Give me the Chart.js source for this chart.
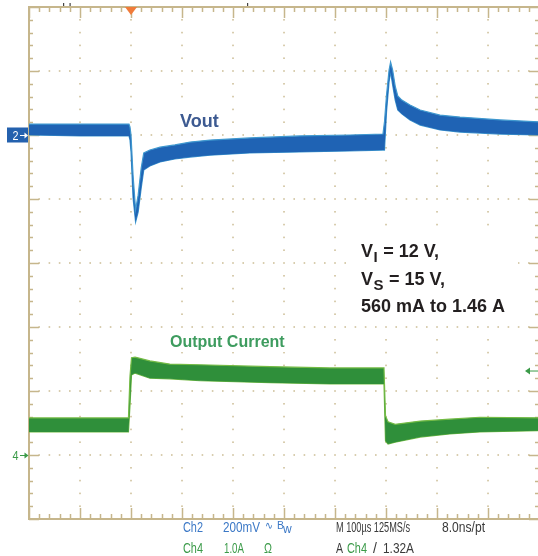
<!DOCTYPE html>
<html><head><meta charset="utf-8">
<script src="https://cdn.jsdelivr.net/npm/chart.js@4.4.1/dist/chart.umd.min.js"></script>
<style>html,body{margin:0;padding:0;background:#fff;overflow:hidden}#wrap{position:relative;width:538px;height:556px}</style>
</head><body><div id="wrap"><canvas id="c" width="538" height="556"></canvas></div>
<script>
// ---- Data read from the oscilloscope capture ----
// time axis: microseconds relative to trigger (100 µs/div)
const timeTicks = [-200,-100,0,100,200,300,400,500,600,700,800];
// Ch2 Vout (mV relative to ch2 reference, 200 mV/div): upper / lower edge of the noisy trace
const voutTime = [-200,-100,-4,-2,0,4,9,14,20,25,37,57,86,116,155,233,331,429,494,497,501,506,509,513,518,523,531,547,567,606,645,724,800];
const voutHigh = [34,34,34,25,0,-125,-234,-188,-103,-56,-47,-38,-31,-22,-16,-9,-3,0,3,41,125,203,228,203,153,122,109,94,78,62,56,47,41];
const voutLow  = [0,-3,-3,-16,-53,-197,-272,-241,-166,-109,-97,-84,-75,-69,-63,-56,-53,-50,-47,-47,72,166,197,156,109,78,66,47,31,16,9,3,0];
// Ch4 output current (A, 1.0 A/div): upper / lower edge of the noisy trace
const currentTime = [-200,-5,-2,1,8,37,76,135,273,390,496,499,504,518,567,625,684,800];
const currentHigh = [0.58,0.58,1.23,1.52,1.53,1.47,1.42,1.41,1.38,1.36,1.36,0.61,0.52,0.48,0.53,0.56,0.59,0.58];
const currentLow  = [0.36,0.36,0.77,1.25,1.28,1.20,1.19,1.16,1.13,1.11,1.11,0.22,0.17,0.20,0.28,0.33,0.36,0.38];
const triggerLevel = 1.32;
const voltsPerDiv = 200, ampsPerDiv = 1.0;
const traceLabels = ['Vout','Output Current'];
const conditionLines = [['V','I',' = 12 V,'],['V','S',' = 15 V,'],['560 mA to 1.46 A','','']];
const statusRow1 = ['Ch2','200mV','∿','B','w','M 100µs 125MS/s','8.0ns/pt'];
const statusRow2 = ['Ch4','1.0A','Ω','A','Ch4','/','1.32A'];

const pts = (t, v) => t.map((x, i) => ({x, y: v[i]}));

const graticule = {
  id: 'graticule',
  beforeDatasetsDraw(chart) {
    const ctx = chart.ctx, xs = chart.scales.x, ys = chart.scales.yv;
    const L = xs.getPixelForValue(-200), R = xs.getPixelForValue(800);
    const T = ys.getPixelForValue(400), B = ys.getPixelForValue(-1200);
    ctx.save();
    ctx.fillStyle = '#cfc19c';
    for (let t = -100; t < 800; t += 100) {
      const px = xs.getPixelForValue(t);
      for (let v = 400 - 40; v > -1200; v -= 40) {
        const py = ys.getPixelForValue(v);
        ctx.fillRect(px - 0.8, py - 0.8, 1.6, 1.6);
      }
    }
    for (let v = 400 - voltsPerDiv; v > -1200; v -= voltsPerDiv) {
      const py = ys.getPixelForValue(v);
      for (let t = -180; t < 800; t += 20) {
        if (t % 100 === 0) continue;
        const px = xs.getPixelForValue(t);
        ctx.fillRect(px - 0.8, py - 0.8, 1.6, 1.6);
      }
    }
    ctx.fillStyle = '#ffffff';
    ctx.fillRect(172, 106, 56, 27);
    ctx.fillRect(346, 233, 172, 92);
    ctx.fillRect(164, 329, 126, 23);
    ctx.strokeStyle = '#c6b68c';
    ctx.lineWidth = 2;
    ctx.strokeRect(L, T, R - L, B - T);
    ctx.lineWidth = 1.5;
    ctx.beginPath();
    for (let t = -200; t <= 800; t += 20) {
      const px = Math.round(xs.getPixelForValue(t)) + 0.5;
      const len = (t % 100 === 0) ? 11 : 5;
      ctx.moveTo(px, T); ctx.lineTo(px, T + len);
      ctx.moveTo(px, B); ctx.lineTo(px, B - len);
    }
    for (let v = 400; v >= -1200; v -= 40) {
      const py = Math.round(ys.getPixelForValue(v)) + 0.5;
      const len = (v % 200 === 0) ? 10 : 4;
      ctx.moveTo(L, py); ctx.lineTo(L + len, py);
      ctx.moveTo(R, py); ctx.lineTo(R - len, py);
    }
    ctx.stroke();
    ctx.restore();
  },
  afterDraw(chart) {
    const ctx = chart.ctx, xs = chart.scales.x, yv = chart.scales.yv, yi = chart.scales.yi;
    const T = yv.getPixelForValue(400);
    ctx.save();
    const tx = xs.getPixelForValue(0);
    ctx.fillStyle = '#f07b3a';
    ctx.beginPath(); ctx.moveTo(tx - 6, T); ctx.lineTo(tx + 6, T); ctx.lineTo(tx, T + 8); ctx.closePath(); ctx.fill();
    ctx.fillStyle = '#444';
    ctx.fillRect(63, 3, 1.2, 3); ctx.fillRect(69.5, 3, 1.2, 3); ctx.fillRect(247, 3, 1.2, 3);
    const y2 = yv.getPixelForValue(0);
    ctx.fillStyle = '#2461ae';
    ctx.fillRect(7, y2 - 7.5, 21, 15);
    ctx.fillStyle = '#fff';
    ctx.font = '13px "Liberation Sans Narrow","Liberation Sans",Arial';
    ctx.textBaseline = 'alphabetic';
    ctx.fillText('2', 12.5, y2 + 5, 6);
    ctx.strokeStyle = '#fff'; ctx.lineWidth = 1;
    ctx.beginPath(); ctx.moveTo(20, y2 + 0.5); ctx.lineTo(27, y2 + 0.5); ctx.stroke();
    ctx.beginPath(); ctx.moveTo(28, y2 + 0.5); ctx.lineTo(24.5, y2 - 2.5); ctx.lineTo(24.5, y2 + 3.5); ctx.closePath(); ctx.fill();
    const y4 = yi.getPixelForValue(0);
    ctx.fillStyle = '#3b9a48'; ctx.strokeStyle = '#3b9a48';
    ctx.fillText('4', 12.5, y4 + 5, 6);
    ctx.beginPath(); ctx.moveTo(20, y4 + 0.5); ctx.lineTo(26, y4 + 0.5); ctx.stroke();
    ctx.beginPath(); ctx.moveTo(28.5, y4 + 0.5); ctx.lineTo(24.5, y4 - 2.5); ctx.lineTo(24.5, y4 + 3.5); ctx.closePath(); ctx.fill();
    const yt = yi.getPixelForValue(triggerLevel);
    ctx.beginPath(); ctx.moveTo(529, yt + 0.5); ctx.lineTo(538, yt + 0.5); ctx.stroke();
    ctx.beginPath(); ctx.moveTo(525, yt + 0.5); ctx.lineTo(530, yt - 3); ctx.lineTo(530, yt + 4); ctx.closePath(); ctx.fill();

    ctx.font = 'bold 18px "Liberation Sans",Arial';
    ctx.fillStyle = '#3d5a91';
    ctx.fillText(traceLabels[0], 180, 127);
    ctx.font = 'bold 16px "Liberation Sans",Arial';
    ctx.fillStyle = '#3e9c5f';
    ctx.fillText(traceLabels[1], 170, 347);
    ctx.fillStyle = '#231f20';
    const baselines = [257, 285, 312];
    conditionLines.forEach((ln, i) => {
      let x = 361;
      ctx.font = 'bold 18px "Liberation Sans",Arial';
      ctx.fillText(ln[0], x, baselines[i]);
      x += ctx.measureText(ln[0]).width;
      if (ln[1]) {
        ctx.font = 'bold 15px "Liberation Sans",Arial';
        ctx.fillText(ln[1], x + 0.5, baselines[i] + 5);
        x += ctx.measureText(ln[1]).width + 1;
      }
      if (ln[2]) {
        ctx.font = 'bold 18px "Liberation Sans",Arial';
        ctx.fillText(ln[2], x, baselines[i]);
      }
    });
    const blue = '#3b78c6', green = '#3a9a48', dark = '#3a3a3a';
    const f = '14px "Liberation Sans Narrow","Liberation Sans",Arial';
    ctx.font = f;
    const row1 = [[statusRow1[0],183,20,blue],[statusRow1[1],223,37,blue],[statusRow1[5],336,74,dark],[statusRow1[6],442,43,dark]];
    row1.forEach(r => { ctx.fillStyle = r[3]; ctx.fillText(r[0], r[1], 532, r[2]); });
    ctx.fillStyle = blue;
    ctx.font = '11px "DejaVu Sans",Arial';
    ctx.fillText(statusRow1[2], 265, 529, 8);
    ctx.font = '11px "Liberation Sans",Arial';
    ctx.fillText(statusRow1[3], 277, 529, 7);
    ctx.font = '12px "Liberation Sans",Arial';
    ctx.fillText(statusRow1[4], 283, 533, 13);
    ctx.font = f;
    const row2 = [[statusRow2[0],183,20,green],[statusRow2[1],224,20,green],[statusRow2[2],264,8,green],[statusRow2[3],336,7,dark],[statusRow2[4],347,20,green],[statusRow2[5],373,5,dark],[statusRow2[6],383,31,dark]];
    row2.forEach(r => { ctx.fillStyle = r[3]; ctx.fillText(r[0], r[1], 553, r[2]); });
    ctx.restore();
  }
};

const band = (label, t, hi, lo, axis, fillColor, edgeColor) => ([
  {label: label, data: pts(t, hi), yAxisID: axis, borderColor: edgeColor, borderWidth: 1.2,
   backgroundColor: fillColor, fill: '+1', pointRadius: 0, tension: 0},
  {label: label + ' low', data: pts(t, lo), yAxisID: axis, borderColor: edgeColor, borderWidth: 1.2,
   backgroundColor: fillColor, fill: false, pointRadius: 0, tension: 0}
]);

new Chart(document.getElementById('c'), {
  type: 'line',
  data: {
    datasets: [
      ...band('Vout', voutTime, voutHigh, voutLow, 'yv', '#1f63b4', '#3f98cf'),
      ...band('Output Current', currentTime, currentHigh, currentLow, 'yi', '#2f8f3a', '#74bb45')
    ]
  },
  options: {
    responsive: false, animation: false, devicePixelRatio: 1,
    layout: {padding: {left: 29, top: 7, right: 0, bottom: 37}},
    plugins: {legend: {display: false}, tooltip: {enabled: false}, title: {display: false}},
    scales: {
      x: {type: 'linear', min: timeTicks[0], max: 798, display: false},
      yv: {type: 'linear', min: -6 * voltsPerDiv, max: 2 * voltsPerDiv, display: false},
      yi: {type: 'linear', min: -1 * ampsPerDiv, max: 7 * ampsPerDiv, display: false}
    }
  },
  plugins: [graticule]
});
</script></body></html>
